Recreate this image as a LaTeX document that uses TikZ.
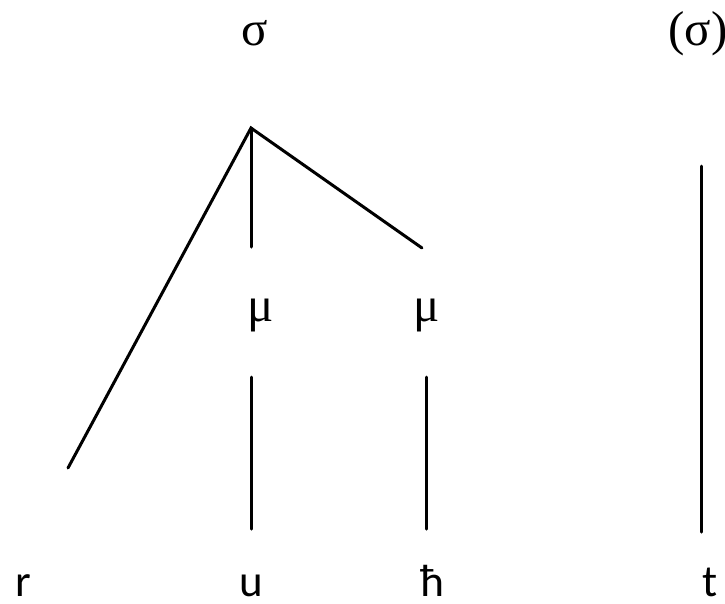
\documentclass[tikz,border=0pt]{standalone}
\usepackage{fontspec}
\setmainfont{Liberation Serif}
\newfontfamily\segfont{Carlito}
\begin{document}
\begin{tikzpicture}[x=1pt,y=-1pt, line width=3pt, line cap=round,
  greek/.style={font=\fontsize{49}{49}\selectfont, anchor=base, inner sep=0pt},
  seg/.style={font=\segfont\fontsize{45}{45}\selectfont, anchor=base, inner sep=0pt}]
\useasboundingbox (0,0) rectangle (725,603);
% labels
\node[greek] (s1) at (255,45) {σ};
\node[greek] (s2) at (698,45) {(σ)};
\node[greek] (m1) at (261,321) {μ};
\node[greek] (m2) at (427,321) {μ};
\node[seg] (r) at (23,596) {r};
\node[seg] (u) at (251,596) {u};
\node[seg] (h) at (432,596) {ħ};
\node[seg] (t) at (710,596) {t};
% connector end points
\coordinate (apex) at (251,128);
\coordinate (rtop) at (68,468);
\coordinate (m1top) at (251,247);
\coordinate (m2top) at (422,248);
\coordinate (m1bot) at (251,377);
\coordinate (ubot) at (251,529);
\coordinate (m2bot) at (426,377);
\coordinate (hbot) at (426,529);
\coordinate (s2bot) at (701,166);
\coordinate (tbot) at (701,532);
% connectors
\draw (rtop) -- (apex) -- (m2top);
\draw (apex) -- (m1top);
\draw (m1bot) -- (ubot);
\draw (m2bot) -- (hbot);
\draw (s2bot) -- (tbot);
\end{tikzpicture}
\end{document}
